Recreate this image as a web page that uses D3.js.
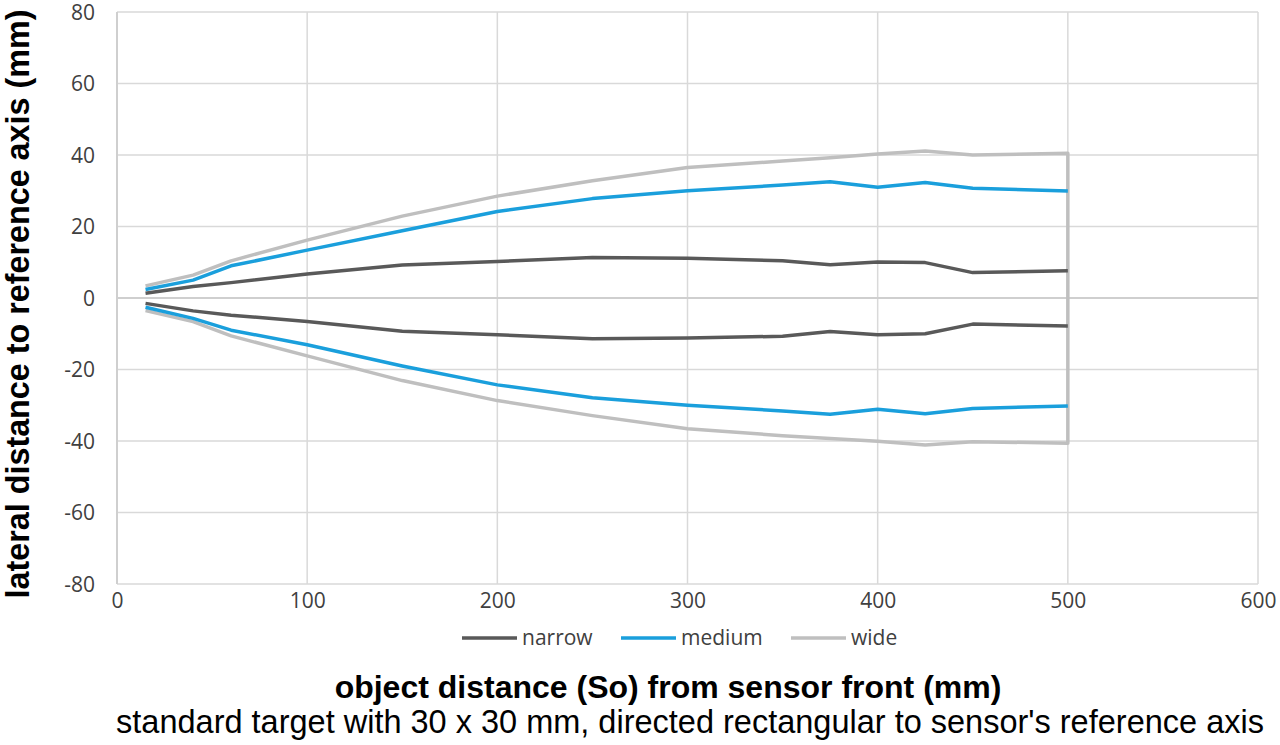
<!DOCTYPE html>
<html>
<head>
<meta charset="utf-8">
<script src="https://cdn.jsdelivr.net/npm/d3@7"></script>
<style>
  body { margin: 0; background: #fff; }
  .tick text { font-family: "Open Sans", "Noto Sans", sans-serif; font-size: 21px; fill: #404040; }
</style>
</head>
<body>
<div id="chart"></div>
<script>
// object distance (mm)
const dist = [15, 40, 60, 100, 150, 200, 250, 300, 350, 375, 400, 425, 450, 500];

// lateral distance, upper and lower edge of each field
const narrowUp  = [1.3, 3.2, 4.3, 6.7, 9.2, 10.2, 11.3, 11.1, 10.4, 9.3, 10.1, 9.9, 7.1, 7.6];
const narrowLow = [-1.5, -3.6, -4.8, -6.6, -9.3, -10.3, -11.4, -11.2, -10.7, -9.4, -10.3, -10.0, -7.3, -7.8];
const mediumUp  = [2.4, 5.0, 9.0, 13.4, 18.8, 24.2, 27.8, 30.0, 31.6, 32.5, 31.0, 32.3, 30.7, 29.9];
const mediumLow = [-2.6, -5.7, -9.0, -13.1, -19.0, -24.3, -27.9, -30.0, -31.6, -32.5, -31.1, -32.4, -30.9, -30.2];
const wideUp    = [3.4, 6.4, 10.4, 16.2, 22.9, 28.5, 32.8, 36.5, 38.3, 39.2, 40.3, 41.1, 40.0, 40.5];
const wideLow   = [-3.5, -6.6, -10.6, -16.2, -23.1, -28.7, -32.9, -36.6, -38.5, -39.3, -40.1, -41.1, -40.2, -40.6];

const xTicks = [0, 100, 200, 300, 400, 500, 600];
const yTicks = [-80, -60, -40, -20, 0, 20, 40, 60, 80];

const seriesNames = ["narrow", "medium", "wide"];
const colors = {narrow: "#595959", medium: "#1a9fdc", wide: "#bfbfbf"};

const W = 1280, H = 745;
const margin = {top: 12, right: 22, bottom: 161, left: 117};
const width = W - margin.left - margin.right,
      height = H - margin.top - margin.bottom;

const svg = d3.select("#chart")
  .append("svg")
    .attr("width", W)
    .attr("height", H);

const g = svg.append("g")
  .attr("transform", `translate(${margin.left}, ${margin.top})`);

const x = d3.scaleLinear().domain([0, 600]).range([0, width]);
const y = d3.scaleLinear().domain([-80, 80]).range([height, 0]);

// grid
g.append("g")
  .selectAll("line")
  .data(yTicks)
  .join("line")
    .attr("x1", 0).attr("x2", width)
    .attr("y1", d => y(d)).attr("y2", d => y(d))
    .attr("stroke", "#d9d9d9").attr("stroke-width", 1.5);
g.append("g")
  .selectAll("line")
  .data(xTicks)
  .join("line")
    .attr("x1", d => x(d)).attr("x2", d => x(d))
    .attr("y1", 0).attr("y2", height)
    .attr("stroke", "#d9d9d9").attr("stroke-width", 1.5);

// zero line and left axis line
g.append("line")
  .attr("x1", 0).attr("x2", width)
  .attr("y1", y(0)).attr("y2", y(0))
  .attr("stroke", "#cfcfcf").attr("stroke-width", 2);
g.append("line")
  .attr("x1", 0).attr("x2", 0)
  .attr("y1", 0).attr("y2", height)
  .attr("stroke", "#cfcfcf").attr("stroke-width", 2);

// axes (labels only), plain hyphen for negatives like the original
const fmt = d => String(d);
const xAxis = g.append("g")
  .attr("transform", `translate(0, ${height})`)
  .call(d3.axisBottom(x).tickValues(xTicks).tickFormat(fmt).tickSize(0).tickPadding(9));
xAxis.select(".domain").remove();

const yAxis = g.append("g")
  .call(d3.axisLeft(y).tickValues(yTicks).tickFormat(fmt).tickSize(0).tickPadding(22));
yAxis.select(".domain").remove();
yAxis.selectAll(".tick text").attr("dy", "0.35em");

const line = d3.line()
  .x(d => x(d[0]))
  .y(d => y(d[1]));

function pairs(vals) { return dist.map((d, i) => [d, vals[i]]); }

// wide: one path, upper edge out then lower edge back
const wideData = pairs(wideUp).concat(pairs(wideLow).reverse());
g.append("path")
  .datum(wideData)
  .attr("fill", "none")
  .attr("stroke", colors.wide)
  .attr("stroke-width", 3.5)
  .attr("stroke-linejoin", "round")
  .attr("d", line);

// narrow and medium: two separate curves each
[["narrow", narrowUp], ["narrow", narrowLow], ["medium", mediumUp], ["medium", mediumLow]]
  .forEach(function(s) {
    g.append("path")
      .datum(pairs(s[1]))
      .attr("fill", "none")
      .attr("stroke", colors[s[0]])
      .attr("stroke-width", 3.5)
      .attr("stroke-linejoin", "round")
      .attr("d", line);
  });

// legend
const legendX = [462, 621, 791];
const legend = svg.append("g").attr("transform", "translate(0, 638)");
seriesNames.forEach(function(name, i) {
  legend.append("line")
    .attr("x1", legendX[i]).attr("x2", legendX[i] + 55)
    .attr("y1", 0).attr("y2", 0)
    .attr("stroke", colors[name]).attr("stroke-width", 3.5);
  legend.append("text")
    .attr("x", legendX[i] + 60)
    .attr("y", 0)
    .attr("dy", "0.35em")
    .style("font-family", "'Open Sans', 'Noto Sans', sans-serif")
    .style("font-size", "21px")
    .attr("fill", "#404040")
    .text(name);
});

// titles
svg.append("text")
  .attr("x", 668).attr("y", 698)
  .attr("text-anchor", "middle")
  .style("font-family", "'Liberation Sans', Arial, sans-serif")
  .style("font-size", "32px")
  .style("font-weight", "bold")
  .text("object distance (So) from sensor front (mm)");

svg.append("text")
  .attr("x", 690).attr("y", 733)
  .attr("text-anchor", "middle")
  .style("font-family", "'Liberation Sans', Arial, sans-serif")
  .style("font-size", "32.5px")
  .text("standard target with 30 x 30 mm, directed rectangular to sensor's reference axis");

svg.append("text")
  .attr("transform", "translate(29, 304) rotate(-90)")
  .attr("text-anchor", "middle")
  .style("font-family", "'Liberation Sans', Arial, sans-serif")
  .style("font-size", "32.3px")
  .style("font-weight", "bold")
  .text("lateral distance to reference axis (mm)");
</script>
</body>
</html>
